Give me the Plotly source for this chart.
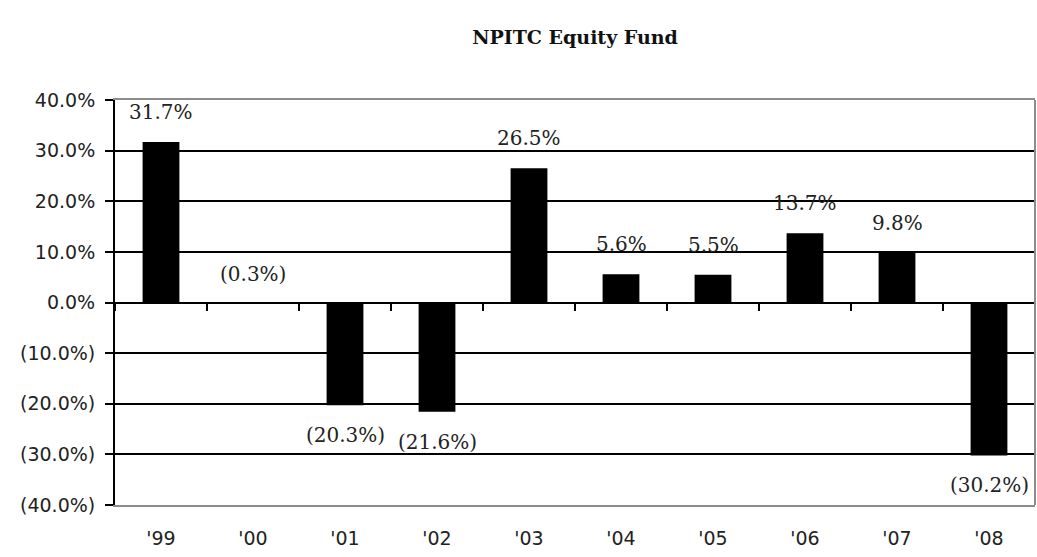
import plotly.graph_objects as go

years = ["'99", "'00", "'01", "'02", "'03", "'04", "'05", "'06", "'07", "'08"]
returns = [31.7, -0.3, -20.3, -21.6, 26.5, 5.6, 5.5, 13.7, 9.8, -30.2]
y_ticks = [40, 30, 20, 10, 0, -10, -20, -30, -40]
y_tick_labels = ["40.0%", "30.0%", "20.0%", "10.0%", "0.0%", "(10.0%)", "(20.0%)", "(30.0%)", "(40.0%)"]
title_text = "NPITC Equity Fund"


def fmt(v):
    return f"{v:.1f}%" if v >= 0 else f"({abs(v):.1f}%)"


TICK_FONT = dict(family="DejaVu Sans", size=19, color="#222222")
LABEL_FONT = dict(family="DejaVu Serif", size=20, color="#222222")

fig = go.Figure()
fig.add_trace(go.Bar(x=years, y=returns, marker=dict(color="black", line=dict(width=0)),
                     hoverinfo="skip", showlegend=False))
# helper trace for the boundary tick axis along zero
fig.add_trace(go.Scatter(x=years, y=returns, xaxis="x2", mode="markers",
                         marker=dict(opacity=0), hoverinfo="skip", showlegend=False))

for x, v in zip(years, returns):
    above = v > -1
    fig.add_annotation(x=x, y=v, text=fmt(v), showarrow=False, font=LABEL_FONT,
                       xanchor="center", yanchor="middle", yshift=30 if above else -30)

fig.update_layout(
    width=1037, height=557,
    margin=dict(l=115, r=2, t=100, b=52),
    paper_bgcolor="white", plot_bgcolor="white",
    bargap=0.6,
    title=dict(text="<b>" + title_text + "</b>", x=0.5, xanchor="center", xref="paper",
               y=1 - 37 / 557, yref="container", yanchor="middle",
               font=dict(family="DejaVu Serif", size=19, color="#111111")),
    xaxis=dict(type="category", categoryorder="array", categoryarray=years,
               range=[-0.5, len(years) - 0.5],
               showline=True, linecolor="#8c8c8c", linewidth=2, mirror=True,
               ticks="", showgrid=False, tickfont=TICK_FONT, ticklabelstandoff=15),
    xaxis2=dict(type="category", categoryorder="array", categoryarray=years,
                range=[-0.5, len(years) - 0.5], overlaying="x", anchor="free", position=0.5,
                tickson="boundaries", ticks="outside", ticklen=7, tickwidth=2, tickcolor="black",
                showticklabels=False, showgrid=False, showline=False, zeroline=False),
    yaxis=dict(range=[-40, 40], tickvals=y_ticks, ticktext=y_tick_labels,
               showgrid=True, gridcolor="black", gridwidth=2,
               zeroline=True, zerolinecolor="black", zerolinewidth=2,
               showline=True, linecolor="black", linewidth=2,
               ticks="outside", ticklen=8, tickwidth=2, tickcolor="black",
               tickfont=TICK_FONT, ticklabelstandoff=6),
    shapes=[dict(type="line", xref="paper", yref="paper", x0=1, x1=1, y0=0, y1=1,
                 line=dict(color="#8c8c8c", width=2))],
)

fig.write_html("out.html", config={"displayModeBar": False},
               post_script="document.body.style.margin='0';document.body.style.overflow='hidden';")
